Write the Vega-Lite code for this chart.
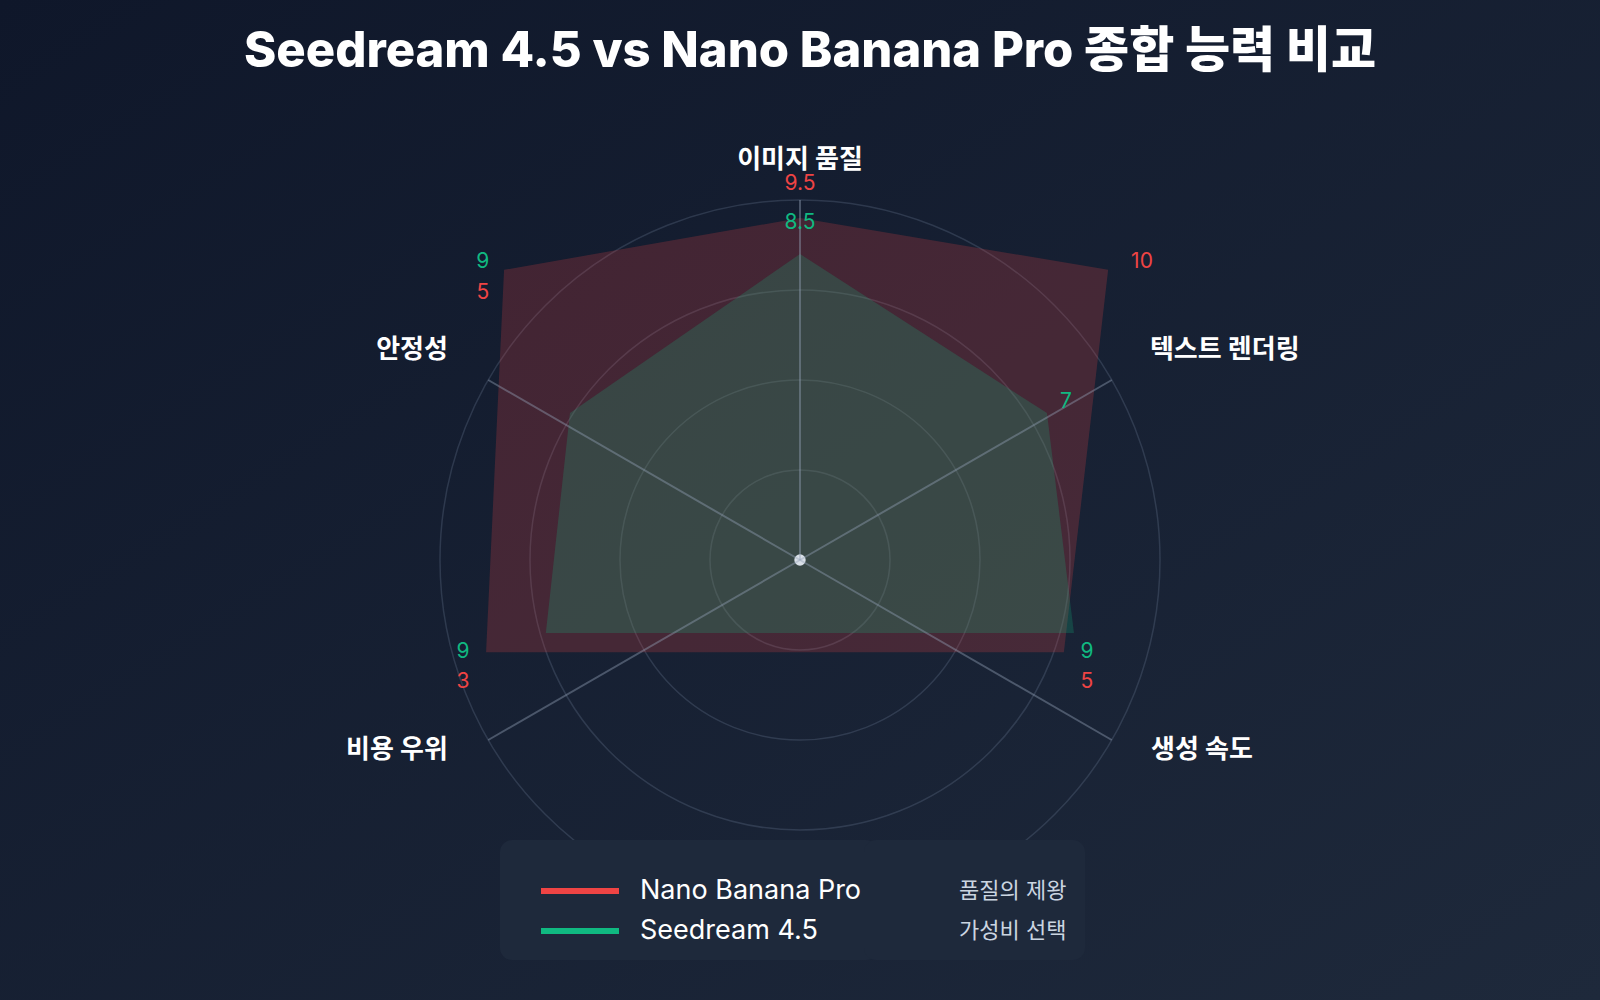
{
  "$schema": "https://vega.github.io/schema/vega-lite/v6.json",
  "width": 1600,
  "height": 1000,
  "autosize": {"type": "none"},
  "padding": 0,
  "background": "#121a2e",
  "view": {
    "stroke": null,
    "fill": {
      "gradient": "linear",
      "x1": 0, "y1": 0, "x2": 1, "y2": 1,
      "stops": [
        {"offset": 0, "color": "#0f172a"},
        {"offset": 1, "color": "#1e293b"}
      ]
    }
  },
  "config": {"font": "Inter, 'Noto Sans CJK KR', sans-serif"},
  "title": {
    "text": "Seedream 4.5 vs Nano Banana Pro 종합 능력 비교",
    "fontSize": 49,
    "fontWeight": 800,
    "color": "#ffffff",
    "anchor": "middle",
    "frame": "group",
    "baseline": "alphabetic",
    "dx": 10,
    "offset": -116
  },
  "datasets": {
    "scores": [
      {"model": "Nano Banana Pro", "desc": "품질의 제왕", "idx": 1, "category": "이미지 품질", "score": 9.5, "vx": 0, "vy": 9.5, "lx": 0, "ly": 10.44},
      {"model": "Nano Banana Pro", "desc": "품질의 제왕", "idx": 2, "category": "텍스트 렌더링", "score": 10, "vx": 8.56, "vy": 8.06, "lx": 9.5, "ly": 8.28},
      {"model": "Nano Banana Pro", "desc": "품질의 제왕", "idx": 3, "category": "생성 속도", "score": 5, "vx": 7.33, "vy": -2.56, "lx": 7.97, "ly": -3.39},
      {"model": "Nano Banana Pro", "desc": "품질의 제왕", "idx": 4, "category": "비용 우위", "score": 3, "vx": -8.72, "vy": -2.56, "lx": -9.36, "ly": -3.39},
      {"model": "Nano Banana Pro", "desc": "품질의 제왕", "idx": 5, "category": "안정성", "score": 5, "vx": -8.22, "vy": 8.06, "lx": -8.81, "ly": 7.42},
      {"model": "Seedream 4.5", "desc": "가성비 선택", "idx": 1, "category": "이미지 품질", "score": 8.5, "vx": 0, "vy": 8.5, "lx": 0, "ly": 9.36},
      {"model": "Seedream 4.5", "desc": "가성비 선택", "idx": 2, "category": "텍스트 렌더링", "score": 7, "vx": 6.86, "vy": 4.08, "lx": 7.39, "ly": 4.39},
      {"model": "Seedream 4.5", "desc": "가성비 선택", "idx": 3, "category": "생성 속도", "score": 9, "vx": 7.61, "vy": -2.03, "lx": 7.97, "ly": -2.56},
      {"model": "Seedream 4.5", "desc": "가성비 선택", "idx": 4, "category": "비용 우위", "score": 9, "vx": -7.06, "vy": -2.03, "lx": -9.36, "ly": -2.56},
      {"model": "Seedream 4.5", "desc": "가성비 선택", "idx": 5, "category": "안정성", "score": 9, "vx": -6.39, "vy": 4.08, "lx": -8.81, "ly": 8.28}
    ],
    "axes": [
      {"category": "이미지 품질", "ex": 0, "ey": 10, "tx": 0, "ty": 11.11},
      {"category": "텍스트 렌더링", "ex": 8.66, "ey": 5, "tx": 9.72, "ty": 5.83},
      {"category": "생성 속도", "ex": 8.66, "ey": -5, "tx": 9.75, "ty": -5.28},
      {"category": "비용 우위", "ex": -8.66, "ey": -5, "tx": -9.78, "ty": -5.28},
      {"category": "안정성", "ex": -8.66, "ey": 5, "tx": -9.78, "ty": 5.83}
    ],
    "rings": [
      {"ring": 2.5}, {"ring": 5}, {"ring": 7.5}, {"ring": 10}
    ]
  },
  "layer": [
    {
      "data": {"name": "rings"},
      "mark": {"type": "point", "filled": false, "stroke": "#64748b", "strokeOpacity": 0.32, "strokeWidth": 1.5, "opacity": 1},
      "encoding": {
        "x": {"datum": 0, "type": "quantitative", "scale": {"domain": [-22.2222, 22.2222], "nice": false, "zero": false}, "axis": null},
        "y": {"datum": 0, "type": "quantitative", "scale": {"domain": [-12.2222, 15.5556], "nice": false, "zero": false}, "axis": null},
        "size": {"field": "ring", "type": "quantitative", "scale": {"type": "pow", "exponent": 2, "domain": [0, 10], "range": [0, 518400]}, "legend": null}
      }
    },
    {
      "data": {"name": "scores"},
      "mark": {"type": "line", "filled": true, "interpolate": "linear-closed", "opacity": 0.22},
      "encoding": {
        "x": {"field": "vx", "type": "quantitative", "scale": {"domain": [-22.2222, 22.2222], "nice": false, "zero": false}, "axis": null},
        "y": {"field": "vy", "type": "quantitative", "scale": {"domain": [-12.2222, 15.5556], "nice": false, "zero": false}, "axis": null},
        "order": {"field": "idx", "type": "quantitative"},
        "color": {
          "field": "model",
          "type": "nominal",
          "scale": {"domain": ["Nano Banana Pro", "Seedream 4.5"], "range": ["#ef4444", "#10b981"]},
          "legend": {
            "orient": "none",
            "legendX": 500,
            "legendY": 840,
            "title": " ",
            "titleFontSize": 11,
            "titlePadding": 14,
            "padding": 16,
            "fillColor": "#1e293b",
            "cornerRadius": 12,
            "symbolType": "M-1,-0.08H1V0.08H-1Z",
            "symbolSize": 6084,
            "symbolStrokeWidth": 0,
            "symbolOffset": 25,
            "symbolOpacity": 1,
            "labelFontSize": 27,
            "labelColor": "#ffffff",
            "labelOffset": 21,
            "labelLimit": 600,
            "clipHeight": 20,
            "rowPadding": 13
          }
        },
        "strokeDash": {
          "field": "desc",
          "type": "nominal",
          "scale": {"domain": ["품질의 제왕", "가성비 선택"]},
          "legend": {
            "orient": "none",
            "legendX": 864,
            "legendY": 840,
            "title": " ",
            "titleFontSize": 13,
            "titlePadding": 10,
            "padding": 18,
            "fillColor": "#1e293b",
            "cornerRadius": 12,
            "symbolType": "circle",
            "symbolSize": 100,
            "symbolStrokeWidth": 0,
            "symbolFillColor": "#1e293b",
            "symbolOpacity": 1,
            "symbolOffset": 182,
            "labelFontSize": 22,
            "labelColor": "#cbd5e1",
            "labelOffset": -127,
            "labelLimit": 600,
            "clipHeight": 20,
            "rowPadding": 18
          }
        }
      }
    },
    {
      "data": {"values": [{"point": "center"}]},
      "mark": {"type": "point", "filled": true, "color": "#e2e8f0", "size": 130, "opacity": 0.95},
      "encoding": {
        "x": {"datum": 0, "type": "quantitative", "scale": {"domain": [-22.2222, 22.2222], "nice": false, "zero": false}, "axis": null},
        "y": {"datum": 0, "type": "quantitative", "scale": {"domain": [-12.2222, 15.5556], "nice": false, "zero": false}, "axis": null}
      }
    },
    {
      "data": {"name": "axes"},
      "mark": {"type": "rule", "stroke": "#94a3b8", "strokeOpacity": 0.42, "strokeWidth": 2},
      "encoding": {
        "x": {"field": "ex", "type": "quantitative", "scale": {"domain": [-22.2222, 22.2222], "nice": false, "zero": false}, "axis": null},
        "y": {"field": "ey", "type": "quantitative", "scale": {"domain": [-12.2222, 15.5556], "nice": false, "zero": false}, "axis": null},
        "x2": {"datum": 0},
        "y2": {"datum": 0}
      }
    },
    {
      "data": {"name": "scores"},
      "mark": {"type": "text", "fontSize": 21, "baseline": "middle", "align": "center"},
      "encoding": {
        "x": {"field": "lx", "type": "quantitative", "scale": {"domain": [-22.2222, 22.2222], "nice": false, "zero": false}, "axis": null},
        "y": {"field": "ly", "type": "quantitative", "scale": {"domain": [-12.2222, 15.5556], "nice": false, "zero": false}, "axis": null},
        "text": {"field": "score", "type": "quantitative"},
        "color": {"field": "model", "type": "nominal"}
      }
    },
    {
      "data": {"name": "axes"},
      "mark": {
        "type": "text",
        "fontSize": 26,
        "fontWeight": "bold",
        "color": "#ffffff",
        "baseline": "middle",
        "align": {"expr": "datum.tx > 1 ? 'left' : datum.tx < -1 ? 'right' : 'center'"}
      },
      "encoding": {
        "x": {"field": "tx", "type": "quantitative", "scale": {"domain": [-22.2222, 22.2222], "nice": false, "zero": false}, "axis": null},
        "y": {"field": "ty", "type": "quantitative", "scale": {"domain": [-12.2222, 15.5556], "nice": false, "zero": false}, "axis": null},
        "text": {"field": "category", "type": "nominal"}
      }
    }
  ]
}
